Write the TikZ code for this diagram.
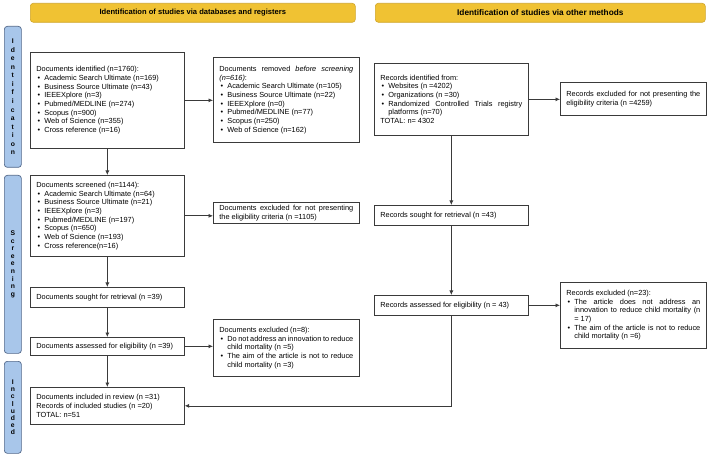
\documentclass[tikz,border=0pt]{standalone}
\usepackage{fontspec}
\setmainfont{Liberation Sans}
\usetikzlibrary{arrows.meta}
\hyphenpenalty=10000
\exhyphenpenalty=10000
\definecolor{hdrfill}{HTML}{F0C233}
\definecolor{hdrdraw}{HTML}{CFA52A}
\definecolor{sbfill}{HTML}{A8C6EA}
\definecolor{sbdraw}{HTML}{52688A}
\definecolor{linec}{HTML}{3A3A3A}
\newcommand{\bul}[1]{\par\noindent\hangindent=8bp\hangafter=1\makebox[8bp][l]{\hspace{1.2bp}\textbullet}#1\par}
\tikzset{
  hdr/.style={draw=hdrdraw, fill=hdrfill, rounded corners=3bp, line width=0.6bp, anchor=north west, inner sep=0pt, font=\bfseries\fontsize{7.6}{9}\selectfont},
  sbar/.style={draw=sbdraw, fill=sbfill, rounded corners=3bp, line width=0.7bp, anchor=north west, inner sep=0pt, minimum width=17bp, align=center},
  box/.style={draw=linec, line width=0.7bp, anchor=north west, inner xsep=6bp, inner ysep=2bp, align=justify, font=\fontsize{7.4}{8.7}\selectfont},
  arr/.style={draw=linec, line width=0.7bp, -{Latex[length=4.5bp,width=4bp]}},
  vl/.style={font=\bfseries\fontsize{6.8}{#1}\selectfont}
}
\begin{document}
\begin{tikzpicture}[x=1bp,y=-1bp]
\useasboundingbox (0,0) rectangle (708,457);
% headers
\node[hdr, minimum width=325bp, minimum height=19bp] (h1) at (30,3) {Identification of studies via databases and registers};
\node[hdr, minimum width=330bp, minimum height=19bp, font=\bfseries\fontsize{8.3}{9}\selectfont] (h2) at (375,3) {Identification of studies via other methods};
% side bars
\node[sbar, minimum height=141bp, vl=8.6] (s1) at (4,26) {I\\d\\e\\n\\t\\i\\f\\i\\c\\a\\t\\i\\o\\n};
\node[sbar, minimum height=178bp, vl=7.6] (s2) at (4,175) {S\\c\\r\\e\\e\\n\\i\\n\\g};
\node[sbar, minimum height=92bp, vl=7.2] (s3) at (4,361) {I\\n\\c\\l\\u\\d\\e\\d};
% boxes left
\node[box, text width=142bp, minimum height=96bp] (b1) at (30,52) {Documents identified (n=1760):
\bul{Academic Search Ultimate (n=169)}
\bul{Business Source Ultimate (n=43)}
\bul{IEEEXplore (n=3)}
\bul{Pubmed/MEDLINE (n=274)}
\bul{Scopus (n=900)}
\bul{Web of Science (n=355)}
\bul{Cross reference (n=16)}};
\node[box, text width=134bp, minimum height=85bp] (b2) at (213,57) {Documents removed \textit{before screening (n=616)}:
\bul{Academic Search Ultimate (n=105)}
\bul{Business Source Ultimate (n=22)}
\bul{IEEEXplore (n=0)}
\bul{Pubmed/MEDLINE (n=77)}
\bul{Scopus (n=250)}
\bul{Web of Science (n=162)}};
\node[box, text width=142bp, minimum height=81bp] (b5) at (30,175) {Documents screened (n=1144):
\bul{Academic Search Ultimate (n=64)}
\bul{Business Source Ultimate (n=21)}
\bul{IEEEXplore (n=3)}
\bul{Pubmed/MEDLINE (n=197)}
\bul{Scopus (n=650)}
\bul{Web of Science (n=193)}
\bul{Cross reference(n=16)}};
\node[box, text width=134bp, minimum height=21bp] (b6) at (213,202) {Documents excluded for not presenting the eligibility criteria (n =1105)};
\node[box, text width=142bp, minimum height=20bp] (b7) at (30,287) {Documents sought for retrieval (n =39)};
\node[box, text width=142bp, minimum height=18bp] (b8) at (30,337) {Documents assessed for eligibility (n =39)};
\node[box, text width=134bp, minimum height=57bp] (b9) at (213,319) {Documents excluded (n=8):
\bul{Do not address an innovation to reduce child mortality (n =5)}
\bul{The aim of the article is not to reduce child mortality (n =3)}};
\node[box, text width=142bp, minimum height=37bp] (b10) at (30,387) {Documents included in review (n =31)\par
Records of included studies (n =20)\par
TOTAL: n=51};
% boxes right
\node[box, text width=142bp, minimum height=72bp] (b3) at (374,63) {Records identified from:
\bul{Websites (n =4202)}
\bul{Organizations (n =30)}
\bul{Randomized Controlled Trials registry platforms (n=70)}
\noindent TOTAL: n= 4302};
\node[box, text width=134bp, minimum height=33bp] (b4) at (560,82) {Records excluded for not presenting the eligibility criteria (n =4259)};
\node[box, text width=142bp, minimum height=20bp] (b11) at (374,205) {Records sought for retrieval (n =43)};
\node[box, text width=142bp, minimum height=20bp] (b12) at (374,295) {Records assessed for eligibility (n = 43)};
\node[box, text width=134bp, minimum height=66bp] (b13) at (560,282) {Records excluded (n=23):
\bul{The article does not address an innovation to reduce child mortality (n = 17)}
\bul{The aim of the article is not to reduce child mortality (n =6)}};
% arrows
\draw[arr] (b1.east) -- (b1.east -| b2.west);
\draw[arr] (b1.south) -- (b5.north);
\draw[arr] (b5.east) -- (b5.east -| b6.west);
\draw[arr] (b5.south) -- (b7.north);
\draw[arr] (b7.south) -- (b8.north);
\draw[arr] (b8.east) -- (b8.east -| b9.west);
\draw[arr] (b8.south) -- (b10.north);
\draw[arr] (b3.east) -- (b3.east -| b4.west);
\draw[arr] (b3.south) -- (b11.north);
\draw[arr] (b11.south) -- (b12.north);
\draw[arr] (b12.east) -- (b12.east -| b13.west);
\draw[arr] (b12.south) -- (b12.south |- b10.east) -- (b10.east);
\end{tikzpicture}
\end{document}
